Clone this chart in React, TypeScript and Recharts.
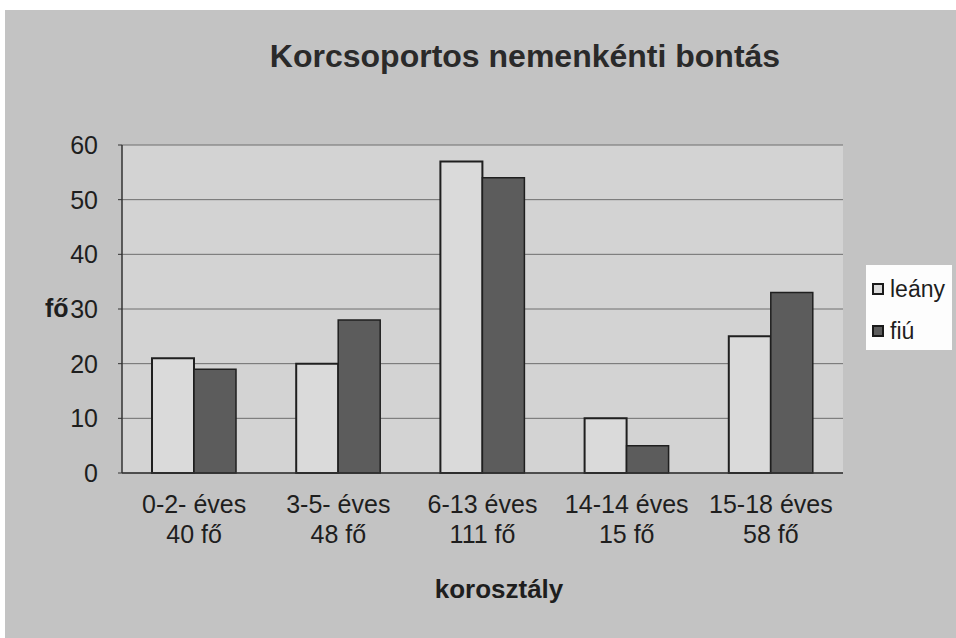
import { Bar, BarChart, CartesianGrid, Label, Legend, XAxis, YAxis } from 'recharts';

const ageGroups = ['0-2- éves', '3-5- éves', '6-13 éves', '14-14 éves', '15-18 éves'];
const totals = ['40 fő', '48 fő', '111 fő', '15 fő', '58 fő'];
const girls = [21, 20, 57, 10, 25];
const boys = [19, 28, 54, 5, 33];
const yTicks = [0, 10, 20, 30, 40, 50, 60];
const seriesOrder = ['leány', 'fiú'];

const data = ageGroups.map((g, i) => ({
  name: g,
  total: totals[i],
  leány: girls[i],
  fiú: boys[i],
}));

const FONT = '"Liberation Sans", Arial, sans-serif';
const TEXT = '#1e1e1e';

const XTick = ({ x, y, payload, index }: any) => (
  <text x={x} y={y} textAnchor="middle" fontSize={25} fontFamily={FONT} fill={TEXT}>
    <tspan x={x} dy={40}>{payload.value}</tspan>
    <tspan x={x} dy={30}>{totals[index]}</tspan>
  </text>
);

const renderLegend = ({ payload }: any) => {
  const items = [...(payload || [])].sort(
    (a: any, b: any) => seriesOrder.indexOf(a.value) - seriesOrder.indexOf(b.value)
  );
  return (
    <div
      style={{
        background: '#fdfdfd',
        width: 86,
        height: 85,
        boxSizing: 'border-box',
        paddingTop: 10,
        paddingLeft: 6,
        fontFamily: FONT,
        fontSize: 23,
        color: TEXT,
      }}
    >
      {items.map((p: any, i: number) => (
        <div key={p.value} style={{ display: 'flex', alignItems: 'center', height: 28, marginBottom: i === 0 ? 14 : 0 }}>
          <span
            style={{
              display: 'inline-block',
              width: 12,
              height: 12,
              boxSizing: 'border-box',
              background: p.color,
              border: '2px solid #1a1a1a',
              marginRight: 6,
            }}
          />
          <span>{p.value}</span>
        </div>
      ))}
    </div>
  );
};

export default function App() {
  return (
    <div
      style={{
        position: 'absolute',
        left: 0,
        top: 0,
        width: 956,
        height: 638,
        background: '#ffffff',
        overflow: 'hidden',
      }}
    >
      {/* scanned grey chart area */}
      <div style={{ position: 'absolute', left: 5, top: 10, right: 0, bottom: 0, background: '#c3c3c3' }} />
      <div
        style={{
          position: 'absolute',
          left: 175,
          top: 40,
          width: 700,
          textAlign: 'center',
          fontFamily: FONT,
          fontWeight: 'bold',
          fontSize: 32,
          lineHeight: '32px',
          color: '#2a2a2a',
        }}
      >
        Korcsoportos nemenkénti bontás
      </div>
      <div style={{ position: 'absolute', left: 0, top: 0 }}>
        <BarChart
          width={956}
          height={638}
          data={data}
          margin={{ top: 145, right: 113, bottom: 0, left: 0 }}
          barSize={42}
          barGap={0}
        >
          <CartesianGrid vertical={false} fill="#d3d3d3" stroke="#6e6e6e" strokeWidth={1} />
          <XAxis
            dataKey="name"
            height={165}
            tick={<XTick />}
            tickLine={false}
            tickSize={0}
            tickMargin={0}
            axisLine={{ stroke: '#333333', strokeWidth: 1.5 }}
            interval={0}
          >
            <Label
              content={() => (
                <text x={499} y={598} textAnchor="middle" fontFamily={FONT} fontWeight="bold" fontSize={26} fill={TEXT}>
                  korosztály
                </text>
              )}
            />
          </XAxis>
          <YAxis
            width={122}
            domain={[0, 60]}
            ticks={yTicks}
            interval={0}
            tickSize={4}
            tickMargin={20}
            tick={{ fontSize: 25, fontFamily: FONT, fill: TEXT }}
            tickLine={{ stroke: '#333333' }}
            axisLine={{ stroke: '#333333', strokeWidth: 1.5 }}
          >
            <Label
              content={() => (
                <text x={45} y={317} fontFamily={FONT} fontWeight="bold" fontSize={25} fill={TEXT}>
                  fő
                </text>
              )}
            />
          </YAxis>
          <Legend
            layout="vertical"
            align="center"
            verticalAlign="middle"
            wrapperStyle={{ left: 866, top: 265, width: 86, height: 85 }}
            content={renderLegend}
          />
          <Bar dataKey="leány" fill="#dadada" stroke="#1f1f1f" strokeWidth={2} isAnimationActive={false} />
          <Bar dataKey="fiú" fill="#5c5c5c" stroke="#1f1f1f" strokeWidth={1.5} isAnimationActive={false} />
        </BarChart>
      </div>
    </div>
  );
}
